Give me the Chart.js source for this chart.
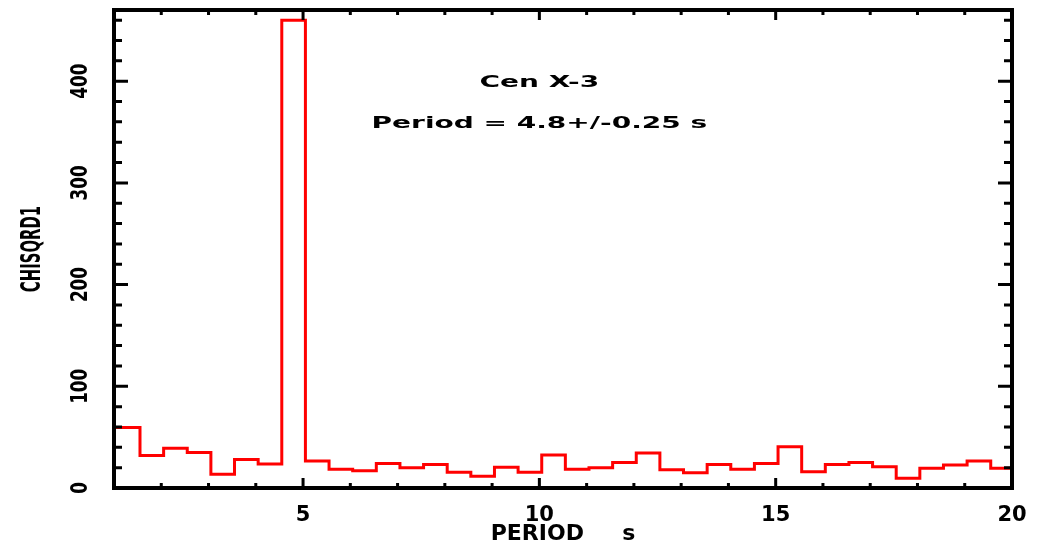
<!DOCTYPE html>
<html>
<head>
<meta charset="utf-8">
<title>Cen X-3 period search</title>
<script src="https://cdn.jsdelivr.net/npm/chart.js@4.4.0/dist/chart.umd.min.js"></script>
<style>
  body { margin: 0; background: #fff; }
  canvas { display: block; }
</style>
</head>
<body>
<canvas id="periodChart" width="1045" height="544"></canvas>
<script>
// edges of the period bins (s), first and last entries are the plot edges
const binEdges = [1.00, 1.55, 2.05, 2.55, 3.05, 3.55, 4.05, 4.55, 5.05, 5.55,
                  6.05, 6.55, 7.05, 7.55, 8.05, 8.55, 9.05, 9.55, 10.05, 10.55,
                  11.05, 11.55, 12.05, 12.55, 13.05, 13.55, 14.05, 14.55, 15.05, 15.55,
                  16.05, 16.55, 17.05, 17.55, 18.05, 18.55, 19.05, 19.55, 20.00];
// chi-square value of each bin
const chisq = [59.5, 32, 39, 35, 13.5, 28, 23.5, 460, 26.5, 18.5,
               17, 24, 20, 23, 15.5, 11.5, 20.5, 15.5, 32.5, 18.5,
               20, 25, 34.5, 18, 15, 23, 18.5, 24, 40.5, 16,
               23, 25, 21, 9.5, 19.5, 22.5, 26.5, 19.5];
const xTickLabels = [5, 10, 15, 20];
const yTickLabels = [0, 100, 200, 300, 400];
const xRange = [1, 20];
const yRange = [0, 470];
const xTitle = 'PERIOD     s';
const yTitle = 'CHISQRD1';
const sourceName = 'Cen X-3';
const periodText = 'Period = 4.8+/-0.25 s';

Chart.defaults.font.family = 'DejaVu Sans';
Chart.defaults.color = '#000';

// histogram outline: point i is the left edge of bin i,
// the last point closes the last bin at the right edge
const stepPoints = binEdges.map((x, i) => ({ x: x, y: chisq[Math.min(i, chisq.length - 1)] }));

function drawRotated(ctx, text, cx, cy, font, squeeze) {
  ctx.save();
  ctx.translate(cx, cy);
  ctx.rotate(-Math.PI / 2);
  ctx.scale(squeeze, 1);
  ctx.font = font;
  ctx.textAlign = 'center';
  ctx.textBaseline = 'middle';
  ctx.fillText(text, 0, 0);
  ctx.restore();
}

function drawStretched(ctx, text, cx, cy, font, stretch) {
  ctx.save();
  ctx.translate(cx, cy);
  ctx.scale(stretch, 1);
  ctx.font = font;
  ctx.textAlign = 'center';
  ctx.textBaseline = 'middle';
  ctx.fillText(text, 0, 0);
  ctx.restore();
}

// frame with inward ticks on all four sides, y labels and the notes
const framePlugin = {
  id: 'frame',
  afterDatasetsDraw(chart) {
    const { ctx, chartArea: a, scales: { x, y } } = chart;
    ctx.save();
    ctx.strokeStyle = '#000';
    ctx.fillStyle = '#000';
    ctx.lineWidth = 3;
    ctx.beginPath();
    for (let v = xRange[0] + 1; v < xRange[1]; v++) {
      const px = x.getPixelForValue(v);
      const len = v % 5 === 0 ? 10 : 5;
      ctx.moveTo(px, a.bottom); ctx.lineTo(px, a.bottom - len);
      ctx.moveTo(px, a.top); ctx.lineTo(px, a.top + len);
    }
    for (let v = 20; v < yRange[1]; v += 20) {
      const py = y.getPixelForValue(v);
      const len = v % 100 === 0 ? 14 : 8;
      ctx.moveTo(a.left, py); ctx.lineTo(a.left + len, py);
      ctx.moveTo(a.right, py); ctx.lineTo(a.right - len, py);
    }
    ctx.stroke();
    ctx.lineWidth = 4;
    ctx.strokeRect(a.left, a.top, a.right - a.left, a.bottom - a.top);

    yTickLabels.forEach(v => {
      drawRotated(ctx, String(v), 81, y.getPixelForValue(v), 'bold 23px "DejaVu Sans"', 0.73);
    });
    drawRotated(ctx, yTitle, 33, (a.top + a.bottom) / 2, 'bold 27px "DejaVu Sans"', 0.55);

    drawStretched(ctx, sourceName, x.getPixelForValue(10), y.getPixelForValue(398), 'bold 16px "DejaVu Sans"', 1.75);
    drawStretched(ctx, periodText, x.getPixelForValue(10), y.getPixelForValue(358), 'bold 16px "DejaVu Sans"', 1.75);
    ctx.restore();
  }
};

new Chart(document.getElementById('periodChart'), {
  type: 'line',
  data: {
    datasets: [{
      label: yTitle,
      data: stepPoints,
      stepped: 'before',
      borderColor: '#ff0000',
      borderWidth: 3,
      pointRadius: 0,
      fill: false
    }]
  },
  options: {
    responsive: false,
    animation: false,
    events: [],
    layout: { padding: { top: 10, right: 33, left: 0, bottom: 0 } },
    plugins: { legend: { display: false }, tooltip: { enabled: false } },
    scales: {
      x: {
        type: 'linear',
        min: xRange[0],
        max: xRange[1],
        grid: { display: false },
        border: { display: false },
        afterBuildTicks: scale => { scale.ticks = xTickLabels.map(v => ({ value: v })); },
        afterFit: scale => { scale.height = 56; },
        ticks: { padding: 7, maxRotation: 0, font: { size: 21, weight: 'bold' } },
        title: {
          display: true,
          text: xTitle,
          font: { size: 22, weight: 'bold', lineHeight: 1 },
          padding: { top: 0, bottom: -1 }
        }
      },
      y: {
        min: yRange[0],
        max: yRange[1],
        grid: { display: false },
        border: { display: false },
        ticks: { display: false },
        afterFit: scale => { scale.width = 114; }
      }
    }
  },
  plugins: [framePlugin]
});
</script>
</body>
</html>
